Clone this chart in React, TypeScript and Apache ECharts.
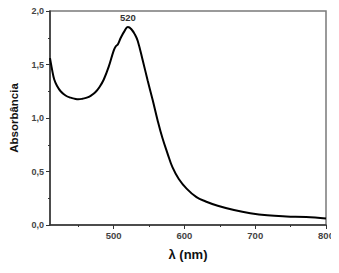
import React, { useEffect, useRef } from "react";
import * as echarts from "echarts";

const wavelengths = [410, 413, 416, 420, 425, 432, 439, 445, 450, 456, 462, 468, 474, 480, 486, 493, 500, 503, 506, 510, 515, 520, 525, 530, 534, 541, 548, 555, 562, 569, 576, 583, 592, 603, 617, 630, 647, 670, 693, 717, 744, 772, 800];
const absorbance = [1.56, 1.45, 1.36, 1.3, 1.25, 1.21, 1.19, 1.18, 1.175, 1.18, 1.19, 1.21, 1.24, 1.29, 1.36, 1.48, 1.63, 1.67, 1.69, 1.75, 1.81, 1.85, 1.83, 1.78, 1.72, 1.54, 1.35, 1.17, 0.98, 0.81, 0.67, 0.54, 0.43, 0.34, 0.26, 0.22, 0.18, 0.14, 0.11, 0.09, 0.08, 0.075, 0.06];
const xMajorTicks = [500, 600, 700, 800];
const xMinorTicks = [450, 550, 650, 750];
const yMinorTicks = [0.25, 0.75, 1.25, 1.75];
const peakLabel = "520";
const peakWavelength = 520;
const peakValue = 1.85;

export default function App() {
  const ref = useRef<HTMLDivElement>(null);
  useEffect(() => {
    if (!ref.current) return;
    const chart = echarts.init(ref.current, undefined, { renderer: "svg" });
    const font = "'Liberation Sans', Arial, sans-serif";
    const data = wavelengths.map((w, i) => [w, absorbance[i]]);
    chart.setOption({
      animation: false,
      grid: { left: 46, top: 11, right: 13, bottom: 48, show: true, borderColor: "#7a7a7a", borderWidth: 1.5, backgroundColor: "transparent" },
      xAxis: [
        {
          type: "value", min: 410, max: 800,
          name: "λ (nm)", nameLocation: "middle", nameGap: 23,
          nameTextStyle: { fontFamily: font, fontWeight: "bold", fontSize: 13, color: "#111" },
          axisLine: { show: true, onZero: false, lineStyle: { color: "#333", width: 1.5 } },
          axisTick: { show: true, length: 4, customValues: xMajorTicks, lineStyle: { color: "#333" } },
          axisLabel: { customValues: xMajorTicks, hideOverlap: false, showMaxLabel: true, fontFamily: font, fontWeight: "bold", fontSize: 9.5, color: "#444", margin: 5 },
          splitLine: { show: false },
        },
        {
          type: "value", min: 410, max: 800, position: "bottom",
          axisLine: { show: false },
          axisTick: { show: true, length: 2, customValues: xMinorTicks, lineStyle: { color: "#333" } },
          axisLabel: { show: false },
          splitLine: { show: false },
        },
      ],
      yAxis: [
        {
          type: "value", min: 0, max: 2, interval: 0.5,
          name: "Absorbância", nameLocation: "middle", nameGap: 30,
          nameTextStyle: { fontFamily: font, fontWeight: "bold", fontSize: 11.5, color: "#111" },
          axisLine: { show: true, onZero: false, lineStyle: { color: "#333", width: 1.5 } },
          axisTick: { show: true, length: 4, lineStyle: { color: "#333" } },
          axisLabel: { fontFamily: font, fontWeight: "bold", fontSize: 9, color: "#444", margin: 6, formatter: (v: number) => v.toFixed(1).replace(".", ",") },
          splitLine: { show: false },
        },
        {
          type: "value", min: 0, max: 2, position: "left",
          axisLine: { show: false },
          axisTick: { show: true, length: 2, customValues: yMinorTicks, lineStyle: { color: "#333" } },
          axisLabel: { show: false },
          splitLine: { show: false },
        },
      ],
      series: [
        {
          type: "line", data, smooth: 0.4, showSymbol: false,
          lineStyle: { color: "#000", width: 2 },
          markPoint: {
            symbol: "circle", symbolSize: 0,
            label: { show: true, position: "top", distance: 5, formatter: peakLabel, fontFamily: font, fontWeight: "bold", fontSize: 9.5, color: "#333" },
            data: [{ coord: [peakWavelength, peakValue] }],
          },
        },
      ],
    });
    return () => chart.dispose();
  }, []);
  return <div ref={ref} style={{ width: 339, height: 273, margin: -8 }} />;
}
